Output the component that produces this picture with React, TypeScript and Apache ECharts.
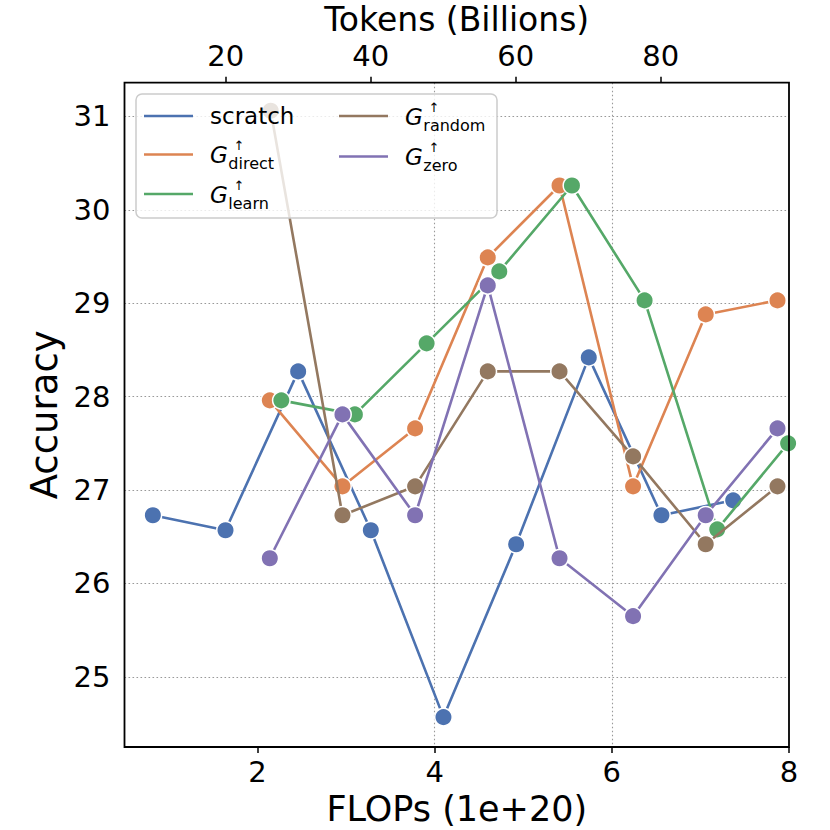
import React, { useEffect, useRef } from 'react';
import * as echarts from 'echarts';

// ---- data ----
const scratchX = [0.82, 1.64, 2.46, 3.28, 4.10, 4.92, 5.74, 6.56, 7.37];
const scratchY = [26.73, 26.57, 28.27, 26.57, 24.57, 26.42, 28.42, 26.73, 26.89];

const directX = [2.14, 2.96, 3.78, 4.60, 5.41, 6.24, 7.06, 7.87];
const directY = [27.96, 27.04, 27.66, 29.49, 30.26, 27.04, 28.88, 29.03];

const learnX = [2.27, 3.10, 3.91, 4.73, 5.55, 6.37, 7.19, 7.99];
const learnY = [27.96, 27.81, 28.57, 29.34, 30.26, 29.03, 26.58, 27.50];

const randomX = [2.15, 2.96, 3.78, 4.60, 5.41, 6.24, 7.06, 7.87];
const randomY = [31.06, 26.73, 27.04, 28.27, 28.27, 27.36, 26.42, 27.04];

const zeroX = [2.14, 2.96, 3.78, 4.60, 5.41, 6.24, 7.06, 7.87];
const zeroY = [26.27, 27.81, 26.73, 29.19, 26.27, 25.65, 26.73, 27.66];

const flopsTicks = [2, 4, 6, 8];
const tokenTicks = [20, 40, 60, 80];
const accTicks = [25, 26, 27, 28, 29, 30, 31];

const seriesNames = ['scratch', 'G↑direct', 'G↑learn', 'G↑random', 'G↑zero'];
const legendSubs = ['', 'direct', 'learn', 'random', 'zero'];
const colors = ['#4C72B0', '#DD8452', '#55A868', '#937860', '#8172B3'];

const FONT = 'DejaVu Sans';

// layout
const G = { left: 124.5, top: 82.7, width: 664.5, height: 664.3 };

function pairs(xs: number[], ys: number[]) {
  return xs.map((x, i) => [x, ys[i]]);
}

export default function App() {
  const ref = useRef<HTMLDivElement>(null);

  useEffect(() => {
    if (!ref.current) return;
    const chart = echarts.init(ref.current, null, { renderer: 'svg' });

    const allData = [
      pairs(scratchX, scratchY),
      pairs(directX, directY),
      pairs(learnX, learnY),
      pairs(randomX, randomY),
      pairs(zeroX, zeroY),
    ];

    const series = allData.map((d, i) => ({
      name: seriesNames[i],
      type: 'line',
      data: d,
      xAxisIndex: 0,
      yAxisIndex: 0,
      symbol: 'circle',
      symbolSize: 17.5,
      showSymbol: true,
      lineStyle: { color: colors[i], width: 2.6 },
      itemStyle: { color: colors[i], borderColor: '#ffffff', borderWidth: 1.5 },
      emphasis: { disabled: true },
      z: 2 + i * 0.01,
    }));

    // legend drawn as graphic
    const slots = [
      { lx: 144, tx: 210, y: 116 },
      { lx: 144, tx: 210, y: 154.5 },
      { lx: 144, tx: 210, y: 194 },
      { lx: 339, tx: 405, y: 116 },
      { lx: 339, tx: 405, y: 156.5 },
    ];
    const legendEls: any[] = [
      {
        type: 'rect',
        shape: { x: 136, y: 94, width: 361, height: 124, r: 6 },
        style: { fill: 'rgba(255,255,255,0.8)', stroke: '#cccccc', lineWidth: 1.5 },
        z: 100,
      },
    ];
    const txt = (text: string, x: number, y: number, font: string, align: string) => ({
      type: 'text',
      x,
      y,
      style: {
        text,
        font,
        fill: '#000',
        align,
        verticalAlign: 'middle',
        textAlign: align,
        textVerticalAlign: 'middle',
      },
      z: 102,
    });
    slots.forEach((s, i) => {
      legendEls.push({
        type: 'line',
        shape: { x1: s.lx, y1: s.y, x2: s.lx + 49, y2: s.y },
        style: { stroke: colors[i], lineWidth: 2.6 },
        z: 101,
      });
      if (i === 0) {
        legendEls.push(txt(seriesNames[0], s.tx, s.y, `23px "${FONT}"`, 'left'));
      } else {
        legendEls.push(txt('G', s.tx, s.y + 0.5, `italic 23px "${FONT}"`, 'left'));
        legendEls.push(txt('↑', s.tx + 29, s.y - 9, `13px "${FONT}"`, 'center'));
        legendEls.push(txt(legendSubs[i], s.tx + 18.3, s.y + 9, `16px "${FONT}"`, 'left'));
      }
    });

    const frame = {
      type: 'rect',
      shape: { x: G.left, y: G.top, width: G.width, height: G.height },
      style: { fill: 'none', stroke: '#000', lineWidth: 1.8 },
      z: 99,
    };

    const gridLine = {
      show: true,
      lineStyle: { color: '#999999', width: 1.1, type: [1.6, 2.4] },
      showMinLine: false,
      showMaxLine: false,
    };

    const option: any = {
      animation: false,
      textStyle: { fontFamily: FONT },
      grid: {
        left: G.left,
        top: G.top,
        width: G.width,
        height: G.height,
        containLabel: false,
        outerBoundsMode: 'none',
      },
      xAxis: [
        {
          type: 'value',
          position: 'bottom',
          min: 0.5,
          max: 8,
          minInterval: 2,
          maxInterval: 2,
          name: 'FLOPs (1e+20)',
          nameLocation: 'middle',
          nameGap: 44,
          nameTextStyle: { fontSize: 35, color: '#000', fontFamily: FONT },
          axisLine: { show: false },
          axisTick: { show: true, customValues: flopsTicks, length: 6, lineStyle: { color: '#000', width: 1.5 } },
          axisLabel: { customValues: flopsTicks, fontSize: 29, color: '#000', margin: 10, fontFamily: FONT },
          splitLine: gridLine,
        },
        {
          type: 'value',
          position: 'top',
          min: 6.05,
          max: 97.7,
          minInterval: 20,
          maxInterval: 20,
          name: 'Tokens (Billions)',
          nameLocation: 'middle',
          nameGap: 46.5,
          nameMoveOverlap: false,
          nameTextStyle: { fontSize: 33, color: '#000', fontFamily: FONT },
          axisLine: { show: false },
          axisTick: { show: true, customValues: tokenTicks, length: 6, lineStyle: { color: '#000', width: 1.5 } },
          axisLabel: { customValues: tokenTicks, fontSize: 29, color: '#000', margin: 12, fontFamily: FONT },
          splitLine: { show: false },
        },
      ],
      yAxis: [
        {
          type: 'value',
          min: 24.25,
          max: 31.36,
          minInterval: 1,
          maxInterval: 1,
          name: 'Accuracy',
          nameLocation: 'middle',
          nameGap: 60,
          nameTextStyle: { fontSize: 37, color: '#000', fontFamily: FONT },
          axisLine: { show: false },
          axisTick: { show: false },
          axisLabel: { customValues: accTicks, fontSize: 29, color: '#000', margin: 14, fontFamily: FONT },
          splitLine: gridLine,
        },
      ],
      graphic: [frame, ...legendEls],
      series,
    };

    chart.setOption(option);
    return () => chart.dispose();
  }, []);

  return (
    <div
      ref={ref}
      style={{ position: 'absolute', left: 0, top: 0, width: 830, height: 830, background: '#fff' }}
    />
  );
}
